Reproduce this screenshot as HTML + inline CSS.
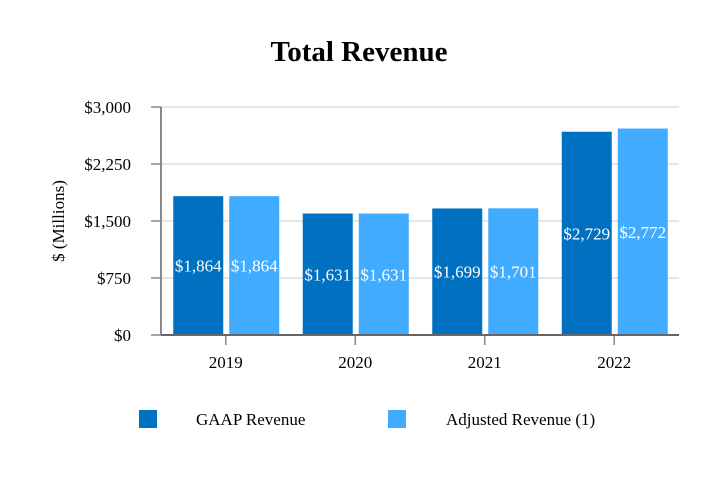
<!DOCTYPE html>
<html><head><meta charset="utf-8"><style>
body{margin:0;background:#fff;font-family:"Liberation Serif",serif;}
</style></head><body>
<svg width="718" height="480" xmlns="http://www.w3.org/2000/svg">
<rect width="718" height="480" fill="#fff"/>
<text x="359" y="61" text-anchor="middle" font-size="29" font-weight="bold" font-family="Liberation Serif">Total Revenue</text>
<text transform="translate(64,221) rotate(-90)" text-anchor="middle" font-size="17" font-family="Liberation Serif">$ (Millions)</text>
<g id="grid"></g><g id="bars"></g><g id="axes"></g>
<g>
<rect x="139" y="410" width="18" height="18" fill="#0070C0"/>
<text x="196" y="425" font-size="17">GAAP Revenue</text>
<rect x="388" y="410" width="18" height="18" fill="#41ACFF"/>
<text x="446" y="425" font-size="17">Adjusted Revenue (1)</text>
</g>
</svg>
<script>
const categories=["2019","2020","2021","2022"];
const gaap=[1864,1631,1699,2729];
const adjusted=[1864,1631,1701,2772];
const yTicks=[0,750,1500,2250,3000];
const yTickLabels=["$0","$750","$1,500","$2,250","$3,000"];
const NS="http://www.w3.org/2000/svg";
const x0=161,x1=679,yTop=107,yBot=335,yMax=3000;
const band=(x1-x0)/categories.length;
const y=v=>yBot-(v/yMax)*(yBot-yTop);
const yb=v=>yBot-(v/yMax)*(yBot-yTop)*0.98;
function mk(t,a,p){const e=document.createElementNS(NS,t);for(const k in a)e.setAttribute(k,a[k]);p.appendChild(e);return e;}
const grid=document.getElementById('grid'),bars=document.getElementById('bars'),axes=document.getElementById('axes');
yTicks.forEach((v,i)=>{
 if(v>0){const g=mk('line',{x1:x0,x2:x1,y1:y(v),y2:y(v),stroke:'#e6e6e6','stroke-width':2},grid);
 
 }
 const tk=mk('line',{x1:151,x2:x0,y1:y(v),y2:y(v),stroke:'#888','stroke-width':1.5},axes);
 
 
 const t=mk('text',{x:131,y:y(v)+6,'text-anchor':'end','font-size':17},axes);
 t.textContent=yTickLabels[i];
 
 
});
const series=[[gaap,'#0070C0','gaap'],[adjusted,'#41ACFF','adjusted']];
const bw=50,gap=7;
categories.forEach((c,i)=>{
 const cx=x0+band*(i+0.5);
 series.forEach(([vals,col,nm],s)=>{
  const bx=s===0?cx-bw-gap/2+1:cx+gap/2;
  const r=mk('rect',{x:bx,y:yb(vals[i]),width:bw,height:yBot-yb(vals[i]),fill:col},bars);
  
  
  const t=mk('text',{x:bx+bw/2,y:(yb(vals[i])+yBot)/2+6,'text-anchor':'middle','font-size':17,fill:'#fff'},bars);
  t.textContent='$'+vals[i].toLocaleString('en-US');
  
  
 });
 const tk=mk('line',{x1:cx,x2:cx,y1:yBot,y2:yBot+10,stroke:'#888','stroke-width':1.5},axes);
 
 
 const t=mk('text',{x:cx,y:368,'text-anchor':'middle','font-size':17},axes);
 t.textContent=c;
 
 
});
const ya=mk('line',{x1:x0,x2:x0,y1:yTop,y2:yBot,stroke:'#888','stroke-width':2},axes);


const xa=mk('line',{x1:x0,x2:x1,y1:yBot,y2:yBot,stroke:'#666','stroke-width':2},axes);


</script>
</body></html>
